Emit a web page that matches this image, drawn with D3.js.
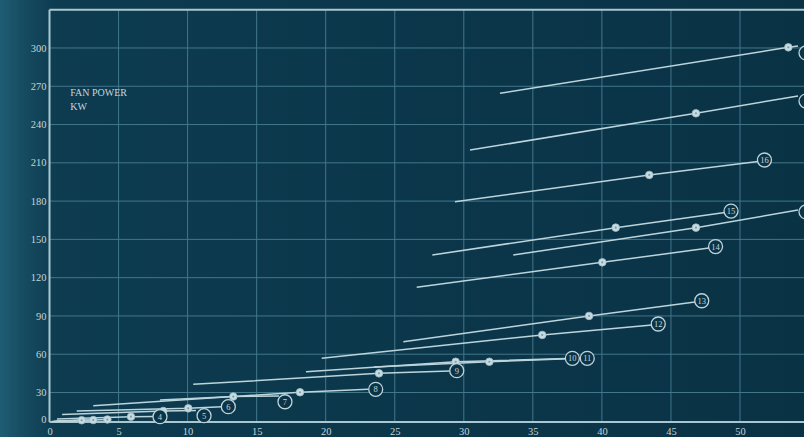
<!DOCTYPE html>
<html>
<head>
<meta charset="utf-8">
<script src="https://cdn.jsdelivr.net/npm/d3@7"></script>
<style>
  html, body { margin: 0; padding: 0; background: #0a3346; }
  svg { display: block; }
</style>
</head>
<body>
<svg id="chart" width="804" height="437"></svg>
<script>
// ---- data ----
const fanIds      = ["1","2","3","4","5","6","7","8","9","10","11","12","13","14","15","16","17","18","19"];
const startFlow   = [0.18, 0.3, 0.5, 0.54, 0.91, 1.97, 8.0, 3.17, 10.41, 18.57, 23.5, 19.71, 25.62, 26.59, 27.72, 29.36, 33.58, 30.45, 32.62];
const startPower  = [0.5, 0.8, 1.0, 3.1, 7.6, 11.2, 22.4, 16.6, 36.4, 46.3, 50.0, 56.8, 69.8, 112.5, 137.8, 179.5, 137.8, 220.0, 264.5];
const dutyFlow    = [2.33, 3.17, 4.19, 5.90, 8.24, 10.05, 13.31, 18.14, 23.86, 29.41, 31.85, 35.68, 39.07, 40.03, 41.00, 43.43, 46.81, 46.81, 53.50];
const dutyPower   = [1.8, 2.0, 2.5, 5.4, 11.2, 13.9, 25.9, 30.2, 45.0, 54.1, 54.1, 75.1, 90.0, 132.0, 159.2, 200.5, 159.2, 248.8, 300.5];
const endFlow     = [2.33, 3.17, 4.19, 7.57, 10.61, 12.49, 16.62, 23.06, 29.0, 37.40, 38.49, 43.63, 46.74, 47.75, 48.91, 51.30, 54.20, 54.20, 54.20];
const endPower    = [1.8, 2.0, 2.5, 5.6, 11.7, 15.5, 26.4, 32.5, 46.8, 56.6, 56.8, 82.9, 100.9, 143.2, 171.1, 211.0, 173.0, 262.4, 301.6];
const labelFlow   = [null, null, null, 8.0, 11.19, 12.95, 17.05, 23.62, 29.49, 37.86, 38.94, 44.08, 47.23, 48.23, 49.35, 51.77, 54.78, 54.78, 54.78];
const labelPower  = [null, null, null, 5.4, 6.4, 15.6, 20.6, 32.5, 47.1, 56.8, 56.8, 83.7, 101.9, 144.4, 172.2, 212.2, 171.5, 258.4, 296.1];

const xTicks = [0, 5, 10, 15, 20, 25, 30, 35, 40, 45, 50];
const xGrid  = [5, 10, 15, 20, 25, 30, 35, 40, 45, 50, 55];
const yTicks = [0, 30, 60, 90, 120, 150, 180, 210, 240, 270, 300];
const yGrid  = [30, 60, 90, 120, 150, 180, 210, 240, 270, 300];
const titleLines = ["FAN POWER", "KW"];

// ---- scales ----
const x = d3.scaleLinear().domain([0, 56]).range([49.5, 49.5 + 56 * 13.81]);
const y = d3.scaleLinear().domain([0, 30, 330]).range([422, 392.5, 9.7]);

const svg = d3.select("#chart");
const W = 804, H = 437;

// background
const defs = svg.append("defs");
const g1 = defs.append("linearGradient").attr("id", "bg").attr("x1", "0").attr("x2", "1").attr("y1", "0").attr("y2", "0");
g1.append("stop").attr("offset", "0%").attr("stop-color", "#1f5d74");
g1.append("stop").attr("offset", "3%").attr("stop-color", "#164b60");
g1.append("stop").attr("offset", "7%").attr("stop-color", "#0d3b50");
g1.append("stop").attr("offset", "100%").attr("stop-color", "#0a3245");
svg.append("rect").attr("width", W).attr("height", H).attr("fill", "url(#bg)");

const gridColor = "#427789";
// vertical grid
svg.append("g").selectAll("line").data(xGrid).join("line")
  .attr("x1", d => x(d)).attr("x2", d => x(d))
  .attr("y1", y(330)).attr("y2", y(0))
  .attr("stroke", gridColor).attr("stroke-width", 1);
// horizontal grid
svg.append("g").selectAll("line").data(yGrid).join("line")
  .attr("x1", x(0)).attr("x2", W)
  .attr("y1", d => y(d)).attr("y2", d => y(d))
  .attr("stroke", gridColor).attr("stroke-width", 1);

// frame
const frameColor = "#a9c7d0";
svg.append("line").attr("x1", x(0)).attr("x2", W).attr("y1", y(330)).attr("y2", y(330))
  .attr("stroke", frameColor).attr("stroke-width", 2);
svg.append("line").attr("x1", x(0)).attr("x2", x(0)).attr("y1", y(330)).attr("y2", y(0))
  .attr("stroke", frameColor).attr("stroke-width", 2);
svg.append("line").attr("x1", x(0)).attr("x2", W).attr("y1", y(0)).attr("y2", y(0))
  .attr("stroke", frameColor).attr("stroke-width", 2);

// axes
const font = "'Liberation Serif', 'DejaVu Serif', serif";
const yAxis = svg.append("g").attr("transform", `translate(${x(0) - 1},0)`)
  .call(d3.axisLeft(y).tickValues(yTicks).tickSize(0).tickPadding(2).tickFormat(d3.format("d")));
const xAxis = svg.append("g").attr("transform", `translate(0,${y(0)})`)
  .call(d3.axisBottom(x).tickValues(xTicks).tickSize(0).tickPadding(6).tickFormat(d3.format("d")));
[yAxis, xAxis].forEach(a => {
  a.select(".domain").remove();
  a.selectAll("text").attr("fill", "#c3d5da").style("font-family", font).style("font-size", "10.5px");
});
yAxis.selectAll("text").attr("dy", d => d === 0 ? "0.05em" : "0.3em");

// title
svg.append("g").selectAll("text").data(titleLines).join("text")
  .attr("x", x(1.5)).attr("y", (d, i) => y(262) + i * 13.5)
  .attr("fill", "#c6d6db").style("font-family", font).style("font-size", "10px")
  .text(d => d);

// fan curves
const lineColor = "#bcd5dc";
const fans = fanIds.map((id, i) => ({
  id,
  pts: [[startFlow[i], startPower[i]], [dutyFlow[i], dutyPower[i]], [endFlow[i], endPower[i]]],
  duty: [dutyFlow[i], dutyPower[i]],
  label: labelFlow[i] == null ? null : [labelFlow[i], labelPower[i]]
}));
const lineGen = d3.line().x(d => x(d[0])).y(d => y(d[1]));
svg.append("g").selectAll("path").data(fans).join("path")
  .attr("d", d => lineGen(d.pts))
  .attr("fill", "none").attr("stroke", lineColor).attr("stroke-width", 1.5);

// duty points
const dots = svg.append("g").selectAll("g").data(fans).join("g")
  .attr("transform", d => `translate(${x(d.duty[0])},${y(d.duty[1])})`);
dots.append("circle").attr("r", 3.8).attr("fill", "#c7dce2").attr("stroke", "#9fbcc5").attr("stroke-width", 0.8);
dots.append("circle").attr("r", 1.1).attr("fill", "#7a9ea9");

// labels (circles running past the right edge are cut off, as in the reference; their numbers are not shown)
const R = 7;
const labs = svg.append("g").selectAll("g").data(fans.filter(d => d.label)).join("g")
  .attr("transform", d => `translate(${x(d.label[0])},${y(d.label[1])})`);
labs.append("circle").attr("r", R).attr("fill", "#0b3447").attr("stroke", "#bdd4db").attr("stroke-width", 1.3);
labs.filter(d => x(d.label[0]) + R < W).append("text").attr("text-anchor", "middle").attr("dy", "0.35em")
  .attr("fill", "#c3d6db").style("font-family", font).style("font-size", "8.5px")
  .text(d => d.id);
</script>
</body>
</html>
